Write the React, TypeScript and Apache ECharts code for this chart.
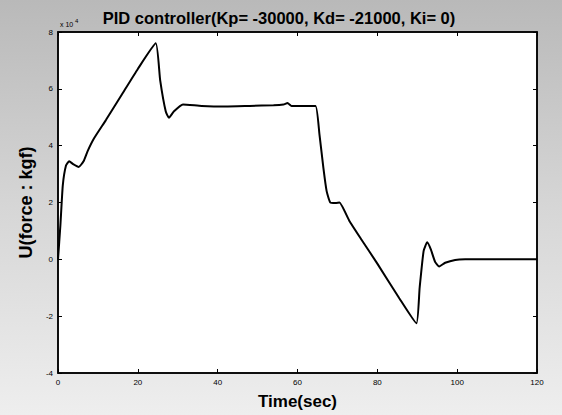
import React, { useEffect, useRef } from "react";
import * as echarts from "echarts";

const timeSec = [0, 0.6, 1.2, 2.0, 2.8, 3.8, 5.2, 6.4, 7.4, 9.0, 12, 16, 20, 24.5, 25.6, 27.0, 27.8, 29.0, 31.3, 36, 42, 48, 54, 56.5, 57.5, 58.5, 61, 64.5, 65.5, 66.5, 67.3, 68.2, 69.5, 70.5, 73, 76, 80, 85.5, 89.8, 90.6, 91.6, 92.5, 93.4, 94.5, 95.5, 97, 99.5, 102, 110, 120];
const force = [0, 1.2, 2.6, 3.3, 3.45, 3.35, 3.25, 3.45, 3.8, 4.25, 4.9, 5.8, 6.7, 7.6, 6.3, 5.2, 4.98, 5.2, 5.45, 5.4, 5.38, 5.4, 5.42, 5.45, 5.5, 5.4, 5.4, 5.4, 4.4, 3.2, 2.4, 2.0, 1.98, 2.0, 1.35, 0.7, -0.15, -1.37, -2.25, -1.0, 0.3, 0.6, 0.35, -0.1, -0.25, -0.12, -0.02, 0, 0, 0];
const yTicks = ["-4", "-2", "0", "2", "4", "6", "8"];
const xTicks = ["0", "20", "40", "60", "80", "100", "120"];

export default function App() {
  const ref = useRef<HTMLDivElement>(null);
  useEffect(() => {
    const chart = echarts.init(ref.current!, null, { renderer: "svg" });
    const data = timeSec.map((t, i) => [t, force[i]]);
    const tickStyle = { show: true, inside: true, length: 4, lineStyle: { color: "#000", width: 1 } };
    const lineStyle = { show: true, onZero: false, lineStyle: { color: "#000", width: 1.5 } };
    chart.setOption({
      animation: false,
      backgroundColor: {
        type: "linear", x: 0, y: 0, x2: 0, y2: 1,
        colorStops: [
          { offset: 0, color: "#b9b9b9" },
          { offset: 0.5, color: "#d6d6d6" },
          { offset: 1, color: "#eeeeee" },
        ],
      },
      title: {
        text: "PID controller(Kp= -30000, Kd= -21000, Ki= 0)",
        left: 274,
        textAlign: "center",
        top: 4,
        textStyle: { fontFamily: "Liberation Sans, Arial", fontSize: 16.5, fontWeight: "bold", color: "#000" },
      },
      grid: { left: 58, right: 25, top: 32, bottom: 41, show: true, backgroundColor: "#ffffff", borderColor: "#000", borderWidth: 1.5 },
      xAxis: [
        {
          type: "value", min: 0, max: 120, interval: 20,
          axisLine: lineStyle,
          axisTick: tickStyle,
          splitLine: { show: false },
          axisLabel: { color: "#000", fontSize: 8, fontFamily: "Liberation Sans, Arial", margin: 5, formatter: (v: number) => xTicks[Math.round(v / 20)] },
          name: "Time(sec)", nameLocation: "middle", nameGap: 20,
          nameTextStyle: { fontFamily: "Liberation Sans, Arial", fontSize: 17, fontWeight: "bold", color: "#000" },
        },
        {
          type: "value", position: "top", min: 0, max: 120, interval: 20,
          axisLine: lineStyle,
          axisTick: tickStyle, axisLabel: { show: false }, splitLine: { show: false },
        },
      ],
      yAxis: [
        {
          type: "value", min: -4, max: 8, interval: 2,
          axisLine: lineStyle,
          axisTick: tickStyle,
          splitLine: { show: false },
          axisLabel: { color: "#000", fontSize: 8, fontFamily: "Liberation Sans, Arial", margin: 5, formatter: (v: number) => yTicks[Math.round((v + 4) / 2)] },
          name: "U(force : kgf)", nameLocation: "middle", nameGap: 15,
          nameTextStyle: { fontFamily: "Liberation Sans, Arial", fontSize: 18, fontWeight: "bold", color: "#000" },
        },
        {
          type: "value", position: "right", min: -4, max: 8, interval: 2,
          axisLine: lineStyle,
          axisTick: tickStyle, axisLabel: { show: false }, splitLine: { show: false },
        },
      ],
      graphic: [
        {
          type: "text", left: 60, top: 21,
          style: { text: "x 10", fontSize: 7, fill: "#000", fontFamily: "Liberation Sans, Arial" },
        },
        {
          type: "text", left: 75, top: 18,
          style: { text: "4", fontSize: 6, fill: "#000", fontFamily: "Liberation Sans, Arial" },
        },
      ],
      series: [
        {
          type: "line", data, showSymbol: false, smooth: 0.15,
          lineStyle: { color: "#000", width: 2 },
        },
      ],
    });
    return () => chart.dispose();
  }, []);
  return <div ref={ref} style={{ width: 562, height: 415, position: "absolute", left: 0, top: 0 }} />;
}
